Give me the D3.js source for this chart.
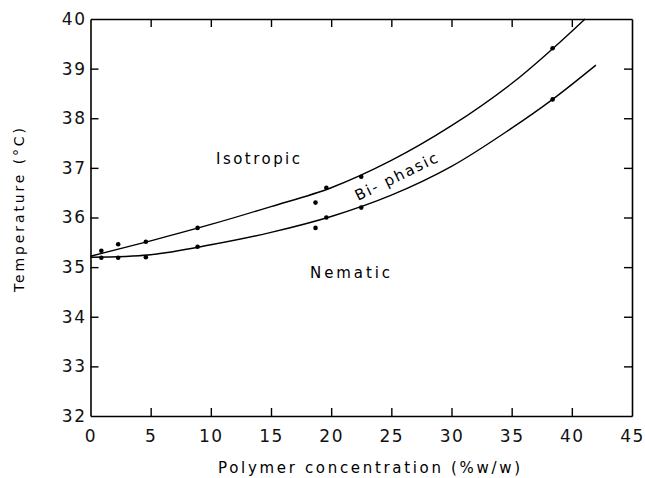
<!DOCTYPE html>
<html><head><meta charset="utf-8">
<script src="https://cdn.jsdelivr.net/npm/d3@7"></script>
<style>body{margin:0;background:#fff}svg{display:block}</style>
</head><body>
<script>
// Data
const xTicks = [0,5,10,15,20,25,30,35,40,45];
const yTicks = [32,33,34,35,36,37,38,39,40];
// measured points (polymer %, temperature °C)
const upperPointsX = [0.9, 2.3, 4.6, 8.9, 18.7, 19.6, 22.5, 38.4];
const upperPointsY = [35.33, 35.46, 35.51, 35.79, 36.30, 36.60, 36.82, 39.41];
const lowerPointsX = [0.9, 2.3, 4.6, 8.9, 18.7, 19.6, 22.5, 38.4];
const lowerPointsY = [35.19, 35.19, 35.20, 35.41, 35.79, 36.00, 36.20, 38.38];
// fitted boundary curves
const upperCurveX = [0, 5, 10, 15, 20, 25, 30, 35, 38.4, 41.1];
const upperCurveY = [35.22, 35.53, 35.86, 36.22, 36.60, 37.15, 37.85, 38.70, 39.40, 40.0];
const lowerCurveX = [0, 5, 10, 15, 20, 25, 30, 35, 38.4, 42.0];
const lowerCurveY = [35.20, 35.25, 35.45, 35.70, 36.02, 36.45, 37.03, 37.80, 38.38, 39.07];

const W = 645, H = 478;
const svg = d3.select("body").append("svg").attr("width", W).attr("height", H);
const x = d3.scaleLinear().domain([0,45]).range([90.5, 632]);
const y = d3.scaleLinear().domain([32,40]).range([416, 19]);
const font = "'DejaVu Sans', sans-serif";

function styleAxis(g, showLabels){
  g.select(".domain").attr("stroke","#000").attr("stroke-width",1.6);
  g.selectAll(".tick line").attr("stroke","#000").attr("stroke-width",1.4);
  g.selectAll(".tick text").attr("font-family", font).attr("font-size", 17)
    .attr("fill","#111").attr("letter-spacing", "1.5px");
  if(!showLabels) g.selectAll(".tick text").remove();
}
const gB = svg.append("g").attr("transform",`translate(0,${y(32)})`)
  .call(d3.axisBottom(x).tickValues(xTicks).tickSize(-8).tickSizeOuter(0).tickPadding(14).tickFormat(d3.format("d")));
styleAxis(gB, true);
gB.selectAll(".tick").filter(d=>d===0||d===45).select("line").remove();
const gL = svg.append("g").attr("transform",`translate(${x(0)},0)`)
  .call(d3.axisLeft(y).tickValues(yTicks).tickSize(-8).tickSizeOuter(0).tickPadding(4).tickFormat(d3.format("d")));
styleAxis(gL, true);
gL.selectAll(".tick").filter(d=>d===32||d===40).select("line").remove();
const gT = svg.append("g").attr("transform",`translate(0,${y(40)})`)
  .call(d3.axisTop(x).tickValues(xTicks.filter(d=>d>0&&d<45)).tickSize(-8).tickSizeOuter(0));
styleAxis(gT, false);
const gR = svg.append("g").attr("transform",`translate(${x(45)},0)`)
  .call(d3.axisRight(y).tickValues(yTicks.filter(d=>d>32&&d<40)).tickSize(-8).tickSizeOuter(0));
styleAxis(gR, false);

const line = d3.line().x(d=>x(d[0])).y(d=>y(d[1])).curve(d3.curveCatmullRom.alpha(0.5));
const up = upperCurveX.map((v,i)=>[v, upperCurveY[i]]);
const lo = lowerCurveX.map((v,i)=>[v, lowerCurveY[i]]);
svg.append("path").attr("d", line(up)).attr("fill","none").attr("stroke","#000").attr("stroke-width",1.4);
svg.append("path").attr("d", line(lo)).attr("fill","none").attr("stroke","#000").attr("stroke-width",1.4);

const pts = upperPointsX.map((v,i)=>[v, upperPointsY[i]]).concat(lowerPointsX.map((v,i)=>[v, lowerPointsY[i]]));
svg.selectAll("circle.pt").data(pts).join("circle").attr("class","pt")
  .attr("cx", d=>x(d[0])).attr("cy", d=>y(d[1])).attr("r", 2.3).attr("fill","#000");

// Region labels
svg.append("text").attr("x", 216).attr("y", 164).attr("font-family", font).attr("font-size", 15)
  .attr("textLength", 84).attr("lengthAdjust","spacing").text("Isotropic");
svg.append("text").attr("x", 310).attr("y", 278).attr("font-family", font).attr("font-size", 15)
  .attr("textLength", 80).attr("lengthAdjust","spacing").text("Nematic");
svg.append("text").attr("transform","translate(358,201) rotate(-26)").attr("font-family", font).attr("font-size", 15)
  .attr("textLength", 90).attr("lengthAdjust","spacing").text("Bi- phasic");

// Axis titles
svg.append("text").attr("x", 218).attr("y", 473).attr("font-family", font).attr("font-size", 15)
  .attr("textLength", 302).attr("lengthAdjust","spacing").text("Polymer concentration (%w/w)");
svg.append("text").attr("transform","translate(24,292) rotate(-90)").attr("font-family", font).attr("font-size", 14)
  .attr("textLength", 164).attr("lengthAdjust","spacing").text("Temperature (°C)");
</script>
</body></html>
